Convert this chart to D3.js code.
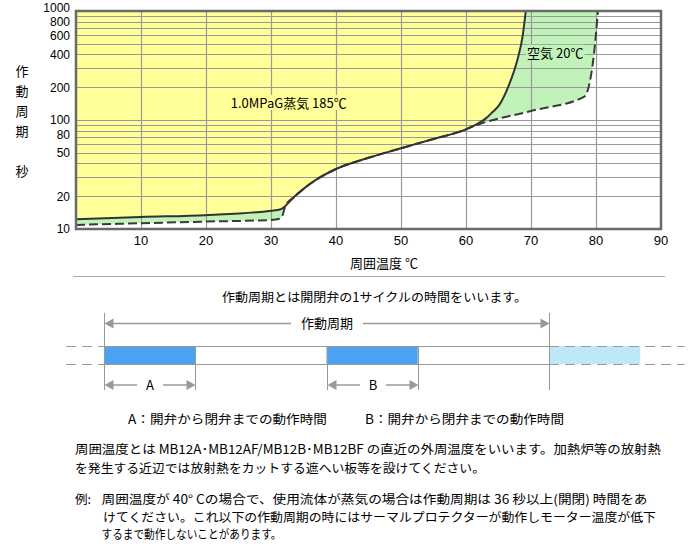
<!DOCTYPE html>
<html>
<head>
<meta charset="utf-8">
<script src="https://cdnjs.cloudflare.com/ajax/libs/d3/7.8.5/d3.min.js"></script>
<style>
  body { margin: 0; background: #fff; }
  svg text { font-family: "Noto Sans CJK JP", "Noto Sans", sans-serif; fill: #000; }
  svg text.num { font-family: "Liberation Sans", Arial, sans-serif; }
</style>
</head>
<body>
<div id="chart"></div>
<script>
// Step 1: chart values
//= ================================
var xTicks = [10, 20, 30, 40, 50, 60, 70, 80, 90];
var yTickLabels = [10, 20, 50, 80, 100, 200, 400, 600, 800, 1000];
var yGrid = [20, 30, 40, 50, 60, 70, 80, 90, 100, 200, 300, 400, 500, 600, 700, 800, 900];

// 1.0MPaG steam 185C (solid line)
var steamTemp = [0, 10, 20, 30, 31.5, 33.6, 35.1, 36.9, 40, 45, 50, 55, 60, 62, 63.1, 64, 65.1, 66.6, 67.9, 68.7, 69.2];
var steamSec = [12.3, 12.9, 13.4, 14.7, 15.2, 19.8, 23.6, 28.2, 35.5, 45, 55, 67, 82, 94, 104, 117, 137, 209, 355, 581, 1000];

// air 20C (dashed line)
var airTemp = [0, 10, 20, 30, 31.3, 31.8, 32.2, 33.6, 35.1, 36.9, 40, 45, 50, 55, 60, 61, 70, 78.2, 79.2, 79.7, 80.3];
var airSec = [10.9, 11.3, 11.7, 12.1, 12.4, 13.5, 16.2, 19.8, 23.6, 28.2, 35.5, 45, 55, 67, 82, 86.9, 121, 164, 250, 409, 1000];

var steamLabel = "1.0MPaG蒸気 185℃";
var airLabel = "空気 20℃";
var yTitle = ["作", "動", "周", "期", "", "秒"];
var xTitle = "周囲温度 ℃";

// timing diagram values (one unit = one opening interval)
var openStarts = [0, 1, 2];
var openLength = 0.41;
var cycleText = "作動周期";
var spanLabels = ["A", "B"];

var introText = "作動周期とは開閉弁の1サイクルの時間をいいます。";
var legendLines = ["A：開弁から閉弁までの動作時間", "B：開弁から閉弁までの動作時間"];
var noteLines = [
  "周囲温度とは MB12A･MB12AF/MB12B･MB12BF の直近の外周温度をいいます。加熱炉等の放射熱",
  "を発生する近辺では放射熱をカットする遮へい板等を設けてください。"
];
var exampleHead = "例:";
var exampleLines = [
  "周囲温度が 40°  Cの場合で、使用流体が蒸気の場合は作動周期は 36 秒以上(開閉) 時間をあ",
  "けてください。これ以下の作動周期の時にはサーマルプロテクターが動作しモーター温度が低下",
  "するまで動作しないことがあります。"
];

// Step 2: svg + chart group
//= ================================
var svgWidth = 690;
var svgHeight = 560;

var margin = { top: 11, left: 76 };
var width = 585;
var height = 218;

var svg = d3.select("#chart")
  .append("svg")
  .attr("width", svgWidth)
  .attr("height", svgHeight);

var defs = svg.append("defs");

defs.append("clipPath")
  .attr("id", "plotClip")
  .append("rect")
  .attr("width", width)
  .attr("height", height);

var chartGroup = svg.append("g")
  .attr("transform", `translate(${margin.left}, ${margin.top})`);

var xScale = d3.scaleLinear().domain([0, 90]).range([0, width]);
var yScale = d3.scaleLog().domain([10, 1000]).range([height, 0]);

var steamData = d3.zip(steamTemp, steamSec);
var airData = d3.zip(airTemp, airSec);

var yellow = "#ffff99";
var green = "#c0f2ba";

// Step 3: fills (area above each curve up to 1000 s)
//= ================================
var areaAbove = d3.area()
  .x(d => xScale(d[0]))
  .y0(0)
  .y1(d => yScale(d[1]))
  .curve(d3.curveMonotoneX);

var plotArea = chartGroup.append("g").attr("clip-path", "url(#plotClip)");

plotArea.append("path")
  .datum(airData)
  .attr("d", areaAbove)
  .attr("fill", green);

plotArea.append("path")
  .datum(steamData)
  .attr("d", areaAbove)
  .attr("fill", yellow);

// grid
plotArea.selectAll(".vgrid")
  .data(xTicks)
  .enter()
  .append("line")
  .attr("x1", d => Math.round(xScale(d)) + 0.5)
  .attr("x2", d => Math.round(xScale(d)) + 0.5)
  .attr("y1", 0)
  .attr("y2", height)
  .attr("stroke", "#999")
  .attr("stroke-width", 1.2);

plotArea.selectAll(".hgrid")
  .data(yGrid)
  .enter()
  .append("line")
  .attr("x1", 0)
  .attr("x2", width)
  .attr("y1", d => Math.round(yScale(d)) + 0.5)
  .attr("y2", d => Math.round(yScale(d)) + 0.5)
  .attr("stroke", "#999")
  .attr("stroke-width", 1.2);

// curves
var curveLine = d3.line()
  .x(d => xScale(d[0]))
  .y(d => yScale(d[1]))
  .curve(d3.curveMonotoneX);

plotArea.append("path")
  .datum(airData)
  .attr("d", curveLine)
  .attr("fill", "none")
  .attr("stroke", "#3a3a3a")
  .attr("stroke-width", 2)
  .attr("stroke-dasharray", "9,4");

plotArea.append("path")
  .datum(steamData)
  .attr("d", curveLine)
  .attr("fill", "none")
  .attr("stroke", "#333")
  .attr("stroke-width", 2);

// labels inside the plot, with a backing so grid lines stop at the text
function boxedLabel(txt, xv, yv, bg) {
  var t = chartGroup.append("text")
    .attr("x", xScale(xv))
    .attr("y", yScale(yv))
    .attr("dy", "0.35em")
    .attr("font-size", "13px")
    .text(txt);
  var bb = t.node().getBBox();
  chartGroup.insert("rect", function() { return t.node(); })
    .attr("x", bb.x - 1)
    .attr("y", bb.y + 2)
    .attr("width", bb.width + 2)
    .attr("height", bb.height - 4)
    .attr("fill", bg);
}
boxedLabel(steamLabel, 23.8, 142, yellow);
boxedLabel(airLabel, 69.4, 410, green);

// frame
chartGroup.append("rect")
  .attr("width", width)
  .attr("height", height)
  .attr("fill", "none")
  .attr("stroke", "#6a6a6a")
  .attr("stroke-width", 2.5);

// Step 4: axis labels
//= ================================
chartGroup.selectAll(".xtick")
  .data(xTicks)
  .enter()
  .append("text")
  .classed("num", true)
  .attr("x", d => xScale(d))
  .attr("y", height + 16)
  .attr("text-anchor", "middle")
  .attr("font-size", "13px")
  .text(d => d);

// crowded labels near the top of each decade are nudged apart a little
var yNudge = { 1000: -3, 600: 0.5, 80: 4 };
chartGroup.selectAll(".ytick")
  .data(yTickLabels)
  .enter()
  .append("text")
  .classed("num", true)
  .attr("x", -6)
  .attr("y", d => yScale(d) + (yNudge[d] || 0))
  .attr("dy", "0.36em")
  .attr("text-anchor", "end")
  .attr("font-size", "12px")
  .text(d => d);

svg.selectAll(".ytitle")
  .data(yTitle)
  .enter()
  .append("text")
  .attr("x", 22)
  .attr("y", (d, i) => 76 + i * 20)
  .attr("text-anchor", "middle")
  .attr("font-size", "13px")
  .text(d => d);

svg.append("text")
  .attr("x", 350)
  .attr("y", 268)
  .attr("font-size", "13px")
  .text(xTitle);

// Step 5: timing diagram
//= ================================
svg.append("line")
  .attr("x1", 73).attr("x2", 665)
  .attr("y1", 276.5).attr("y2", 276.5)
  .attr("stroke", "#aaa");

svg.append("text")
  .attr("x", 222)
  .attr("y", 302)
  .attr("font-size", "12.5px")
  .attr("textLength", 305)
  .attr("lengthAdjust", "spacingAndGlyphs")
  .text(introText);

var tScale = d3.scaleLinear().domain([0, 1]).range([104, 326.5]);
var barTop = 346;
var barBottom = 364;
var gray = "#999";

// open bars
svg.selectAll(".bar")
  .data(openStarts)
  .enter()
  .append("rect")
  .attr("x", d => tScale(d))
  .attr("y", barTop)
  .attr("width", d => tScale(d + openLength) - tScale(d))
  .attr("height", barBottom - barTop)
  .attr("fill", (d, i) => i < 2 ? "#4aa2f0" : "#bfe8f7");

// rails
[barTop, barBottom].forEach(function(yy) {
  svg.append("line")
    .attr("x1", tScale(0)).attr("x2", tScale(2))
    .attr("y1", yy + 0.5).attr("y2", yy + 0.5)
    .attr("stroke", gray);
  svg.append("line")
    .attr("x1", tScale(-0.17)).attr("x2", tScale(0))
    .attr("y1", yy + 0.5).attr("y2", yy + 0.5)
    .attr("stroke", gray)
    .attr("stroke-dasharray", "10,6");
  svg.append("line")
    .attr("x1", tScale(2)).attr("x2", tScale(2.61))
    .attr("y1", yy + 0.5).attr("y2", yy + 0.5)
    .attr("stroke", gray)
    .attr("stroke-dasharray", "10,6");
});

// ticks
var tickMarks = [[0, 313], [openLength, barTop], [1, barTop], [1 + openLength, barTop], [2, 313]];
svg.selectAll(".tmark")
  .data(tickMarks)
  .enter()
  .append("line")
  .attr("x1", d => Math.round(tScale(d[0])) + 0.5)
  .attr("x2", d => Math.round(tScale(d[0])) + 0.5)
  .attr("y1", d => d[1])
  .attr("y2", 390)
  .attr("stroke", gray);

// double arrow with a label in the middle gap
function spanArrow(t0, t1, yy, label, gap) {
  var x0 = Math.round(tScale(t0)) + 0.5;
  var x1 = Math.round(tScale(t1)) + 0.5;
  var xm = (x0 + x1) / 2;
  svg.append("line").attr("x1", x0 + 8).attr("x2", xm - gap).attr("y1", yy).attr("y2", yy)
    .attr("stroke", gray).attr("stroke-width", 1.5);
  svg.append("line").attr("x1", xm + gap).attr("x2", x1 - 8).attr("y1", yy).attr("y2", yy)
    .attr("stroke", gray).attr("stroke-width", 1.5);
  svg.append("path")
    .attr("d", `M${x0},${yy} L${x0 + 9},${yy - 5} L${x0 + 9},${yy + 5} Z`)
    .attr("fill", gray);
  svg.append("path")
    .attr("d", `M${x1},${yy} L${x1 - 9},${yy - 5} L${x1 - 9},${yy + 5} Z`)
    .attr("fill", gray);
  svg.append("text")
    .attr("x", xm)
    .attr("y", yy)
    .attr("dy", "0.36em")
    .attr("text-anchor", "middle")
    .attr("font-size", "13px")
    .text(label);
}
spanArrow(0, 2, 323.5, cycleText, 36);
spanLabels.forEach(function(lbl, i) {
  spanArrow(openStarts[i], openStarts[i] + openLength, 385, lbl, 13);
});

svg.selectAll(".legend")
  .data(legendLines)
  .enter()
  .append("text")
  .attr("x", (d, i) => i === 0 ? 128 : 365)
  .attr("y", 424)
  .attr("font-size", "12.5px")
  .attr("textLength", 199)
  .attr("lengthAdjust", "spacingAndGlyphs")
  .text(d => d);

// Step 6: notes
//= ================================
var noteWidths = [586, 410];
svg.selectAll(".note")
  .data(noteLines)
  .enter()
  .append("text")
  .attr("x", 75)
  .attr("y", (d, i) => 454 + i * 18.5)
  .attr("font-size", "12.5px")
  .attr("textLength", (d, i) => noteWidths[i])
  .attr("lengthAdjust", "spacingAndGlyphs")
  .text(d => d);

svg.append("text")
  .attr("x", 75)
  .attr("y", 504)
  .attr("font-size", "12.5px")
  .text(exampleHead);

var exampleWidths = [546, 553, 180];
svg.selectAll(".example")
  .data(exampleLines)
  .enter()
  .append("text")
  .attr("x", (d, i) => i === 1 ? 103 : 101.5)
  .attr("y", (d, i) => 504 + i * 17.7)
  .attr("font-size", "12.5px")
  .attr("textLength", (d, i) => exampleWidths[i])
  .attr("lengthAdjust", "spacingAndGlyphs")
  .text(d => d);
</script>
</body>
</html>
